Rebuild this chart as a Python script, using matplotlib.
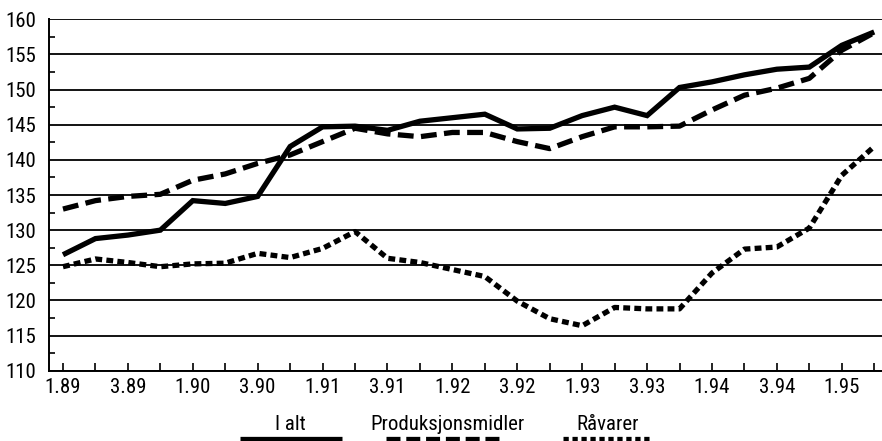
import numpy as np
import matplotlib
matplotlib.use('Agg')
import matplotlib.pyplot as plt
from matplotlib.lines import Line2D

plt.rcParams['font.family'] = ['Roboto Condensed', 'Archivo Narrow', 'Liberation Sans', 'DejaVu Sans']

# quarterly index values, 1.89 .. 2.95
quarters = ['1.89', '2.89', '3.89', '4.89', '1.90', '2.90', '3.90', '4.90',
            '1.91', '2.91', '3.91', '4.91', '1.92', '2.92', '3.92', '4.92',
            '1.93', '2.93', '3.93', '4.93', '1.94', '2.94', '3.94', '4.94',
            '1.95', '2.95']
i_alt = [126.5, 128.8, 129.3, 130.0, 134.2, 133.8, 134.8, 141.9,
         144.7, 144.8, 144.2, 145.5, 146.0, 146.5, 144.4, 144.5,
         146.3, 147.5, 146.3, 150.3, 151.1, 152.1, 152.9, 153.2,
         156.3, 158.2]
produksjonsmidler = [133.0, 134.2, 134.8, 135.1, 137.1, 138.0, 139.5, 140.7,
                     142.6, 144.5, 143.7, 143.3, 143.9, 143.9, 142.6, 141.6,
                     143.3, 144.7, 144.7, 144.8, 147.1, 149.2, 150.2, 151.6,
                     155.6, 158.1]
ravarer = [124.8, 125.9, 125.4, 124.8, 125.2, 125.3, 126.7, 126.1,
           127.4, 129.8, 126.0, 125.4, 124.4, 123.4, 119.9, 117.4,
           116.4, 119.0, 118.8, 118.8, 123.9, 127.3, 127.6, 130.3,
           137.8, 141.9]
series_names = ['I alt', 'Produksjonsmidler', 'Råvarer']

fig = plt.figure(figsize=(8.82, 4.41), dpi=100)
ax = fig.add_axes([0.0556, 0.1594, 0.9444, 0.7968])

x = np.arange(len(quarters))
lw = 3.8
styles = ['-', (0, (3.0, 1.4)), (0, (1.3, 0.8))]
for vals, ls in zip([i_alt, produksjonsmidler, ravarer], styles):
    ax.plot(x, vals, color='black', linewidth=lw, linestyle=ls,
            solid_capstyle='butt', dash_capstyle='butt', solid_joinstyle='miter', zorder=3)

ax.set_xlim(-0.43, 25.24)
ax.set_ylim(110, 160)
ax.set_yticks(np.arange(110, 161, 5))
ax.set_yticks(np.arange(112.5, 160, 5), minor=True)
ax.set_xticks(x)
ax.set_xticklabels([q if k % 2 == 0 else '' for k, q in enumerate(quarters)])

fs = 15
ax.tick_params(axis='x', direction='in', length=5.5, width=1.2, pad=5, labelsize=fs)
ax.tick_params(axis='y', which='major', length=0, pad=9, labelsize=fs)
ax.tick_params(axis='y', which='minor', direction='in', length=4, width=1.2)

ax.grid(axis='y', which='major', color='black', linewidth=1.3)
for s in ['top', 'right']:
    ax.spines[s].set_visible(False)
ax.spines['left'].set_linewidth(1.4)
ax.spines['bottom'].set_linewidth(1.4)

# legend: label above line sample
leg_styles = ['-', (0, (2.65, 1.1)), (0, (1.0, 0.7))]
leg_text_x = [0.329, 0.507, 0.689]
leg_line_x = [(0.272, 0.388), (0.4376, 0.566), (0.6383, 0.738)]
for name, ls, tx, (x0, x1) in zip(series_names, leg_styles, leg_text_x, leg_line_x):
    fig.text(tx, 0.037, name, ha='center', va='center', fontsize=fs)
    fig.add_artist(Line2D([x0, x1], [0.004, 0.004], color='black', linewidth=lw,
                          linestyle=ls, dash_capstyle='butt', solid_capstyle='butt',
                          transform=fig.transFigure))

fig.savefig('out.png', dpi=100)
